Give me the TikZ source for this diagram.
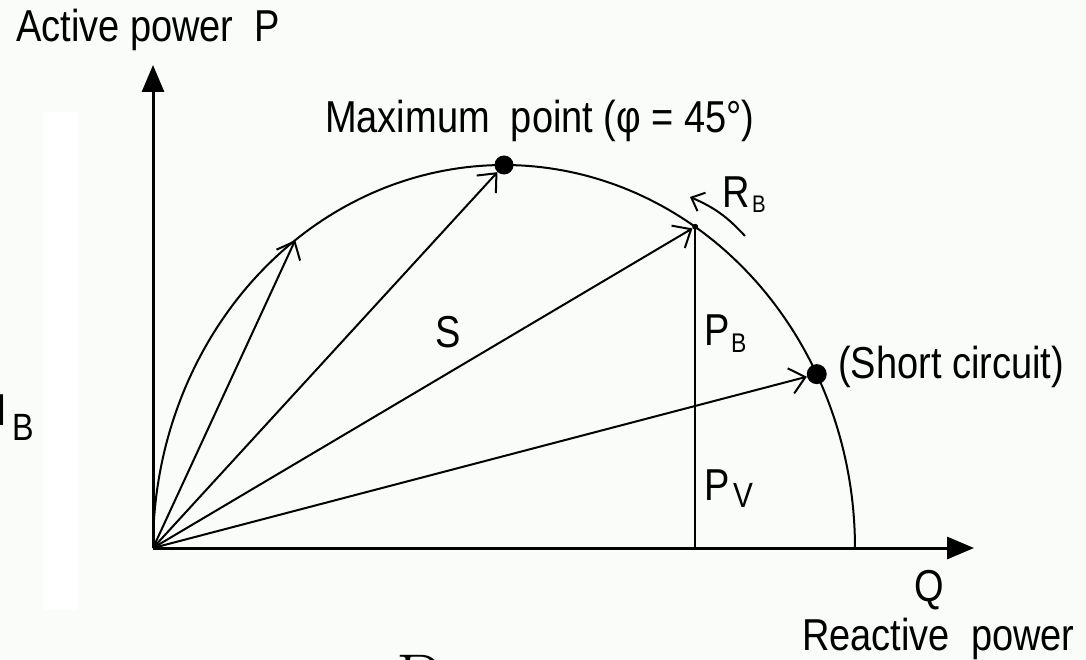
\documentclass[tikz,border=0pt]{standalone}
\usepackage{fontspec}
\usepackage{graphicx}
\newfontfamily\labfont{Liberation Sans}
\usetikzlibrary{arrows.meta}
\definecolor{bgc}{RGB}{250,252,250}
\newcommand\sq[1]{\scalebox{0.85}[1]{#1}}
\begin{document}
\begin{tikzpicture}[x=1pt,y=-1pt,
  lab/.style={font=\labfont\fontsize{44.7}{48}\selectfont, inner sep=0pt, anchor=base west},
  subs/.style={font=\labfont\fontsize{#1}{#1}\selectfont, inner sep=0pt, anchor=base west},
  axisline/.style={line width=3pt, -{Triangle[length=27pt,width=22pt]}},
  vec/.style={line width=2pt, -{Straight Barb[length=15pt,width=26pt,line width=2pt]}},
  thin/.style={line width=2pt},
  bigdot/.style={circle, fill=black, inner sep=0pt, minimum size=#1},
]
\useasboundingbox (0,0) rectangle (1086,660);
\fill[bgc] (0,0) rectangle (1086,660);
\fill[white] (43,112) rectangle (78,610);

% points
\coordinate (O) at (153,548);
\coordinate (Ytop) at (153,65);
\coordinate (Xend) at (974,548);
\coordinate (A1) at ({504+351*cos(233.5)},{548+383*sin(233.5)});
\node[bigdot=19pt] (dmax) at (504,165) {};
\node[bigdot=6pt] (dR) at ({504+351*cos(303)},{548+383*sin(303)}) {};
\node[bigdot=20pt] (dsc) at ({504+351*cos(333)},{548+383*sin(333)}) {};
\coordinate (F) at (dR |- O);

% arc
\draw[thin] plot[domain=180:360, samples=160] ({504+351*cos(\x)},{548+383*sin(\x)});

% axes
\draw[axisline] (O) -- (Ytop);
\draw[axisline] (O) -- (Xend);

% vectors
\draw[vec] (O) -- (A1);
\draw[vec] (O) -- (dmax);
\draw[vec] (O) -- (dR);
\draw[vec] (O) -- (dsc);
\draw[thin] (dR.center) -- (F);

% R_B rotation arrow
\coordinate (rb1) at (745,236);
\coordinate (rb2) at (690,197);
\draw[line width=2pt, -{Straight Barb[length=11pt,width=20pt,line width=2pt]}] (rb1) to[bend right=12] (rb2);

% labels
\node[lab] (tP) at (16,42) {\sq{Active power\ \ P}};
\node[lab] (tMax) at (325,133) {\sq{Maximum\ \ point (φ = 45°)}};
\node[lab] (tR) at (722,208) {\sq{R}};
\node[subs=24] (tRB) at (752,213) {\sq{B}};
\node[lab] (tS) at (435,347) {\sq{S}};
\node[lab] (tPB) at (704,345) {\sq{P}};
\node[subs=27] (tPBs) at (731,352) {\sq{B}};
\node[lab] (tPV) at (704,500) {\sq{P}};
\node[subs=35] (tPVs) at (733,507) {\sq{V}};
\node[lab] (tSC) at (838,378) {\sq{(Short circuit)}};
\node[lab] (tQ) at (914,601) {\sq{Q}};
\node[lab] (tRP) at (802,650) {\sq{Reactive\ \ power}};
\node[lab] (tI) at (-4,425) {\sq{I}};
\node[subs=38] (tIB) at (12,440) {\sq{B}};
\node[inner sep=0pt, anchor=base west, font=\fontsize{72}{72}\selectfont] (tbig) at (396,704) {P};
\end{tikzpicture}
\end{document}
